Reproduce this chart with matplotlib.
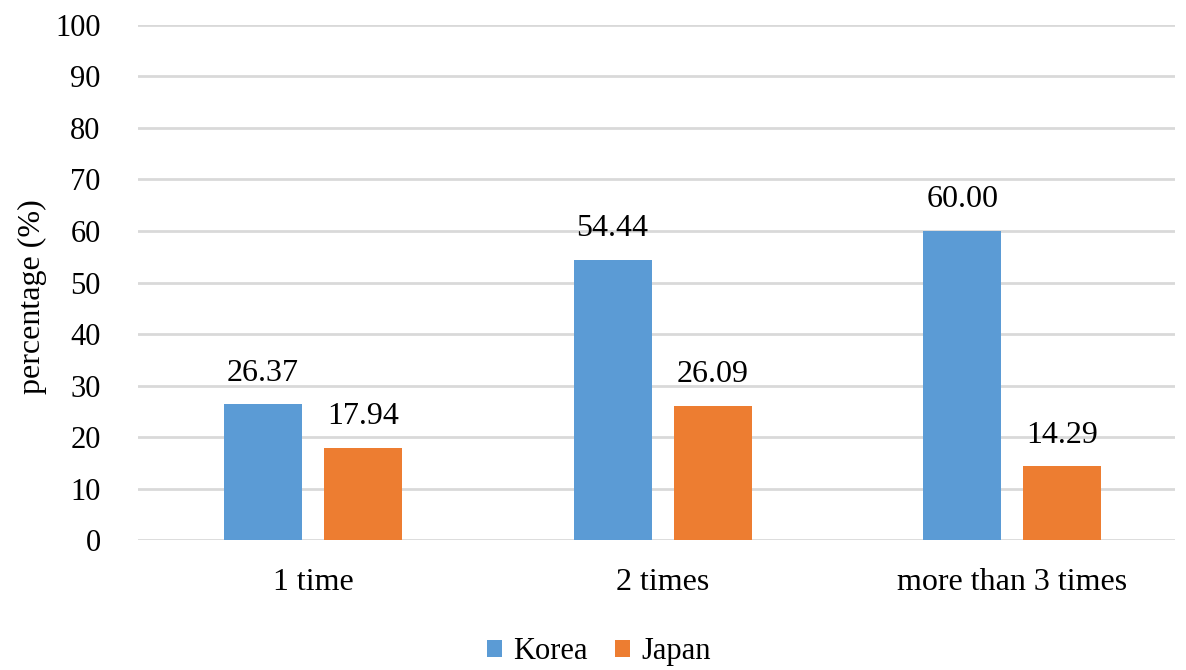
import matplotlib
matplotlib.use("Agg")
import matplotlib.pyplot as plt
import numpy as np

categories = ["1 time", "2 times", "more than 3 times"]
korea = [26.37, 54.44, 60.00]
japan = [17.94, 26.09, 14.29]
series_names = ["Korea", "Japan"]
colors = ["#5b9bd5", "#ed7d31"]
yticks = [0, 10, 20, 30, 40, 50, 60, 70, 80, 90, 100]

plt.rcParams['font.family'] = ['Liberation Serif', 'DejaVu Serif']

fig = plt.figure(figsize=(11.86, 6.70), dpi=100)
ax = fig.add_axes([0.1164, 0.194, 0.8743, 0.7687])

x = np.arange(len(categories))
w = 0.223
off = 0.143
b1 = ax.bar(x - off, korea, w, color=colors[0], label=series_names[0], zorder=3)
b2 = ax.bar(x + off, japan, w, color=colors[1], label=series_names[1], zorder=3)

for bars, vals in ((b1, korea), (b2, japan)):
    for r, v in zip(bars, vals):
        ax.annotate(f"{v:.2f}", (r.get_x() + r.get_width() / 2, v),
                    xytext=(0, 12), textcoords="offset points",
                    ha="center", va="bottom", fontsize=23)

ax.set_xlim(-0.5, 2.465)
ax.set_ylim(0, 100)
ax.set_yticks(yticks)
ax.set_yticklabels([str(t) for t in yticks], fontsize=22)
ax.set_xticks(x)
ax.set_xticklabels(categories, fontsize=23)
ax.tick_params(axis='both', length=0)
ax.tick_params(axis='y', pad=27)
ax.tick_params(axis='x', pad=20)
ax.grid(axis='y', color='#d9d9d9', linewidth=2, zorder=0)
for s in ax.spines.values():
    s.set_visible(False)
ax.set_ylabel("percentage (%)", fontsize=23)
ax.yaxis.set_label_coords(-0.088, 0.472)

fig.legend(handles=[b1, b2], labels=series_names, loc='center',
           bbox_to_anchor=(0.505, 0.027), ncol=2, frameon=False, fontsize=22,
           handlelength=0.5, handleheight=0.5, handletextpad=0.35, columnspacing=0.9,
           borderpad=0)

fig.savefig("out.png", dpi=100)
